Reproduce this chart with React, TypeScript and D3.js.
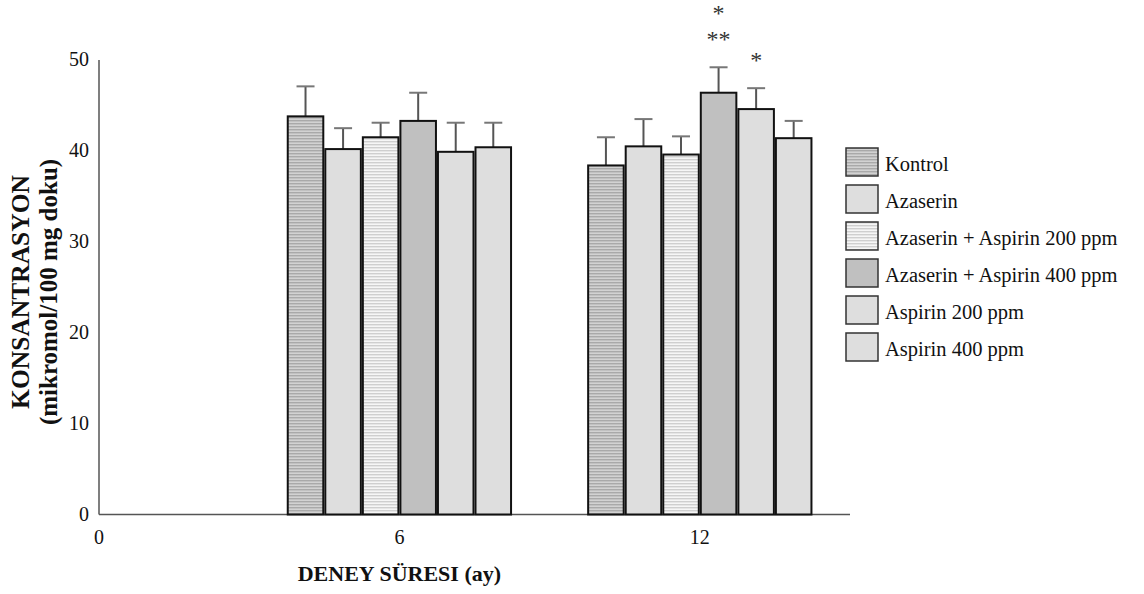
import React from "react";
import * as d3 from "d3";

const series = [
  "Kontrol",
  "Azaserin",
  "Azaserin + Aspirin 200 ppm",
  "Azaserin + Aspirin 400 ppm",
  "Aspirin 200 ppm",
  "Aspirin 400 ppm",
];
const xTicks = [0, 6, 12];
const yTicks = [0, 10, 20, 30, 40, 50];
const groups = [6, 12];
const month6 = [43.8, 40.2, 41.5, 43.3, 39.9, 40.4];
const month6Err = [3.3, 2.3, 1.6, 3.1, 3.2, 2.7];
const month12 = [38.4, 40.5, 39.6, 46.4, 44.6, 41.4];
const month12Err = [3.1, 3.0, 2.0, 2.8, 2.3, 1.9];
// labels listed from bottom (nearest the error bar) to top
const marks = [
  { group: 12, series: 3, labels: ["**", "*"] },
  { group: 12, series: 4, labels: ["*"] },
];

const fills = [
  "url(#patKontrol)",
  "#dedede",
  "url(#patAA200)",
  "#c0c0c0",
  "#dedede",
  "#dedede",
];

const serif = "'Liberation Serif', 'Times New Roman', serif";

export default function App() {
  const W = 1144;
  const H = 594;
  const x = d3.scaleLinear().domain([0, 15]).range([99, 850]);
  const y = d3.scaleLinear().domain([0, 50]).range([514.5, 60]);
  const barW = x(0.75) - x(0);
  const values = [month6, month12];
  const errs = [month6Err, month12Err];
  const barX = (g: number, i: number) => x(g) - 3 * barW + i * barW;

  return (
    <svg
      width={W}
      height={H}
      style={{ position: "absolute", left: 0, top: 0, background: "#fff" }}
      fontFamily={serif}
    >
      <defs>
        <pattern id="patKontrol" width="6" height="3" patternUnits="userSpaceOnUse">
          <rect width="6" height="3" fill="#d2d2d2" />
          <rect width="6" height="1.4" fill="#a9a9a9" />
        </pattern>
        <pattern id="patAA200" width="6" height="3" patternUnits="userSpaceOnUse">
          <rect width="6" height="3" fill="#f6f6f6" />
          <rect width="6" height="1.4" fill="#cfcfcf" />
        </pattern>
      </defs>

      {/* axes */}
      <line x1={x(0)} x2={x(0)} y1={y(50)} y2={y(0)} stroke="#555" strokeWidth={1.5} />
      <line x1={x(0)} x2={x(15)} y1={y(0)} y2={y(0)} stroke="#555" strokeWidth={1.5} />
      {yTicks.map((t) => (
        <text key={"y" + t} x={89} y={y(t) + 6} textAnchor="end" fontSize={20} fill="#111">
          {t}
        </text>
      ))}
      {xTicks.map((t) => (
        <text key={"x" + t} x={x(t)} y={544} textAnchor="middle" fontSize={20} fill="#111">
          {t}
        </text>
      ))}

      {/* bars */}
      {groups.map((g, gi) =>
        series.map((s, i) => {
          const v = values[gi][i];
          const e = errs[gi][i];
          const bx = barX(g, i);
          const cx = bx + barW / 2;
          return (
            <g key={g + "-" + i}>
              <line x1={cx} x2={cx} y1={y(v)} y2={y(v + e)} stroke="#555" strokeWidth={2} />
              <line x1={cx - 9} x2={cx + 9} y1={y(v + e)} y2={y(v + e)} stroke="#777" strokeWidth={2} />
              <rect
                x={bx + 1}
                y={y(v)}
                width={barW - 2}
                height={y(0) - y(v)}
                fill={fills[i]}
                stroke="#111"
                strokeWidth={2}
              />
            </g>
          );
        })
      )}

      {/* significance marks */}
      {marks.map((m, mi) => {
        const gi = groups.indexOf(m.group);
        const v = values[gi][m.series];
        const e = errs[gi][m.series];
        const cx = barX(m.group, m.series) + barW / 2;
        return m.labels.map((lab, li) => (
          <text
            key={mi + "-" + li}
            x={cx}
            y={y(v + e) - 20 - li * 26}
            textAnchor="middle"
            fontSize={24}
            fill="#333"
          >
            {lab}
          </text>
        ));
      })}

      {/* axis titles */}
      <text x={x(6)} y={581} textAnchor="middle" fontSize={22} fontWeight="bold" fill="#111">
        DENEY SÜRESI (ay)
      </text>
      <g transform="translate(0,292) rotate(-90)">
        <text x={0} y={29} textAnchor="middle" fontSize={25.5} fontWeight="bold" fill="#111">
          KONSANTRASYON
        </text>
        <text x={0} y={57} textAnchor="middle" fontSize={25} fontWeight="bold" fill="#111">
          (mikromol/100 mg doku)
        </text>
      </g>

      {/* legend */}
      {series.map((s, i) => {
        const top = 148 + i * 37;
        return (
          <g key={"lg" + i}>
            <rect x={846} y={top} width={32} height={28} fill={fills[i]} stroke="#333" strokeWidth={1.5} />
            <text x={885} y={top + 23} fontSize={20.5} fill="#111">
              {s}
            </text>
          </g>
        );
      })}
    </svg>
  );
}
